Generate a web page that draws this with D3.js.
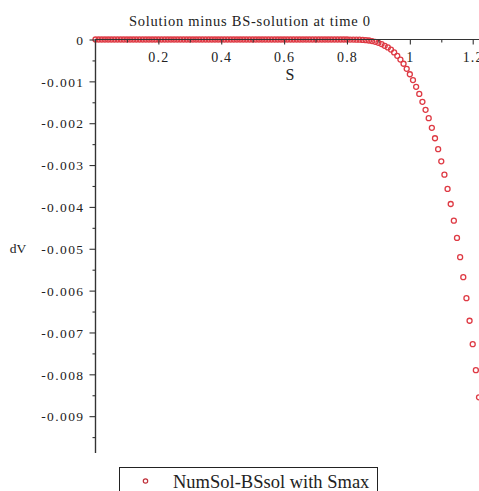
<!DOCTYPE html>
<html>
<head>
<meta charset="utf-8">
<script src="https://cdn.jsdelivr.net/npm/d3@7"></script>
<style>
  html, body { margin: 0; padding: 0; background: #fff; }
  svg { display: block; }
  text { font-family: "Liberation Serif", "Times New Roman", serif; fill: #222; }
</style>
</head>
<body>
<svg id="chart" width="479" height="491"></svg>
<script>
// Asset prices on the solver grid
const sGrid = [
  0.00, 0.01, 0.02, 0.03, 0.04, 0.05, 0.06, 0.07, 0.08, 0.09,
  0.10, 0.11, 0.12, 0.13, 0.14, 0.15, 0.16, 0.17, 0.18, 0.19,
  0.20, 0.21, 0.22, 0.23, 0.24, 0.25, 0.26, 0.27, 0.28, 0.29,
  0.30, 0.31, 0.32, 0.33, 0.34, 0.35, 0.36, 0.37, 0.38, 0.39,
  0.40, 0.41, 0.42, 0.43, 0.44, 0.45, 0.46, 0.47, 0.48, 0.49,
  0.50, 0.51, 0.52, 0.53, 0.54, 0.55, 0.56, 0.57, 0.58, 0.59,
  0.60, 0.61, 0.62, 0.63, 0.64, 0.65, 0.66, 0.67, 0.68, 0.69,
  0.70, 0.71, 0.72, 0.73, 0.74, 0.75, 0.76, 0.77, 0.78, 0.79,
  0.80, 0.81, 0.82, 0.83, 0.84, 0.85, 0.86, 0.87, 0.88, 0.89,
  0.90, 0.91, 0.92, 0.93, 0.94, 0.95, 0.96, 0.97, 0.98, 0.99,
  1.00, 1.01, 1.02, 1.03, 1.04, 1.05, 1.06, 1.07, 1.08, 1.09,
  1.10, 1.11, 1.12, 1.13, 1.14, 1.15, 1.16, 1.17, 1.18, 1.19,
  1.20, 1.21, 1.22, 1.23
];

// Numerical solution minus Black-Scholes solution at t = 0
const dV = [
  0, 0, 0, 0, 0, 0, 0, 0, 0, 0,
  0, 0, 0, 0, 0, 0, 0, 0, 0, 0,
  0, 0, 0, 0, 0, 0, 0, 0, 0, 0,
  0, 0, 0, 0, 0, 0, 0, 0, 0, 0,
  0, 0, 0, 0, 0, 0, 0, 0, 0, 0,
  0, 0, 0, 0, 0, 0, 0, 0, 0, 0,
  0, 0, 0, 0, 0, 0, 0, 0, 0, 0,
  0, 0, 0, 0, 0, 0, 0, 0, 0, 0,
  0, -0.000001, -0.000002, -0.000003, -0.000005, -0.000009, -0.000015, -0.000024, -0.000037, -0.000055,
  -0.00008, -0.00011, -0.00015, -0.00019, -0.00024, -0.00031, -0.00039, -0.00048, -0.00058, -0.00070,
  -0.00083, -0.00097, -0.00113, -0.00130, -0.00149, -0.00168, -0.00188, -0.00211, -0.00236, -0.00262,
  -0.00291, -0.00323, -0.00357, -0.00393, -0.00433, -0.00474, -0.00520, -0.00568, -0.00618, -0.00672,
  -0.00728, -0.00790, -0.00855, -0.00923
];

const xMajorTicks = [0.2, 0.4, 0.6, 0.8, 1, 1.2];
const xMinorTicks = [0.1, 0.3, 0.5, 0.7, 0.9, 1.1];
const yMajorTicks = [0, -0.001, -0.002, -0.003, -0.004, -0.005, -0.006, -0.007, -0.008, -0.009];
const yMinorTicks = [-0.0005, -0.0015, -0.0025, -0.0035, -0.0045, -0.0055, -0.0065, -0.0075, -0.0085, -0.0095];

const titleText = "Solution minus BS-solution at time 0";
const xLabel = "S";
const yLabel = "dV";
const legendLabel = "NumSol-BSsol with Smax";

const svg = d3.select("#chart");

const x = d3.scaleLinear().domain([0, 1.22]).range([95.5, 479]);
const y = d3.scaleLinear().domain([0, -0.00988]).range([39.5, 453]);

const axisColor = "#333";
const pointColor = "#de3a44";

// Points (drawn first so the axes sit on top)
svg.append("g")
  .selectAll("circle")
  .data(sGrid.map((s, i) => ({ s, v: dV[i] })))
  .join("circle")
  .attr("cx", d => x(d.s))
  .attr("cy", d => y(d.v))
  .attr("r", 2.5)
  .attr("fill", "none")
  .attr("stroke", pointColor)
  .attr("stroke-width", 1.3);

// Horizontal axis through dV = 0
const gx = svg.append("g").attr("transform", `translate(0,${y(0)})`);
gx.call(d3.axisBottom(x).tickValues(xMajorTicks).tickSize(5).tickFormat(d3.format("~g")));
gx.append("g").call(d3.axisBottom(x).tickValues(xMinorTicks).tickSize(3).tickFormat(""));
gx.selectAll(".domain").attr("stroke", axisColor).attr("stroke-width", 1.2)
  .attr("d", `M${x(0)},0H479`);
gx.selectAll(".tick line").attr("stroke", axisColor).attr("stroke-width", 1.1);
gx.selectAll(".tick text")
  .attr("y", 22).attr("dy", 0)
  .style("font-family", "Liberation Serif, serif")
  .style("font-size", "14px").style("letter-spacing", "1.2px")
  .attr("fill", "#222");

// Vertical axis at S = 0
const gy = svg.append("g").attr("transform", `translate(${x(0)},0)`);
gy.call(d3.axisLeft(y).tickValues(yMajorTicks).tickSize(6).tickFormat(d => d === 0 ? "0" : d3.format(".3f")(d).replace("−", "-")));
gy.append("g").call(d3.axisLeft(y).tickValues(yMinorTicks).tickSize(3).tickFormat(""));
gy.selectAll(".domain").attr("stroke", axisColor).attr("stroke-width", 1.2)
  .attr("d", `M0,${y(0)}V${y.range()[1]}`);
gy.selectAll(".tick line").attr("stroke", axisColor).attr("stroke-width", 1.1);
gy.selectAll(".tick text")
  .attr("x", -11).attr("dy", "0.35em")
  .style("font-family", "Liberation Serif, serif")
  .style("font-size", "13.5px").style("letter-spacing", "1.4px")
  .attr("fill", "#222");

// Title and axis names
svg.append("text")
  .attr("x", 249.5).attr("y", 26)
  .attr("text-anchor", "middle")
  .attr("textLength", 241).attr("lengthAdjust", "spacing")
  .style("font-size", "14.5px")
  .text(titleText);

svg.append("text")
  .attr("x", 290).attr("y", 80)
  .attr("text-anchor", "middle")
  .style("font-size", "16px")
  .text(xLabel);

svg.append("text")
  .attr("x", 18).attr("y", y(-0.005))
  .attr("dy", "0.35em")
  .attr("text-anchor", "middle")
  .style("font-size", "13.5px")
  .text(yLabel);

// Legend
const legend = svg.append("g");
legend.append("rect")
  .attr("x", 119.5).attr("y", 467.5)
  .attr("width", 258).attr("height", 40)
  .attr("fill", "#fff").attr("stroke", "#222").attr("stroke-width", 1);
legend.append("circle")
  .attr("cx", 145.5).attr("cy", 481)
  .attr("r", 2.2)
  .attr("fill", "none").attr("stroke", "#c0303a").attr("stroke-width", 1.2);
legend.append("text")
  .attr("x", 173).attr("y", 488)
  .style("font-size", "18.5px")
  .text(legendLabel);
</script>
</body>
</html>
